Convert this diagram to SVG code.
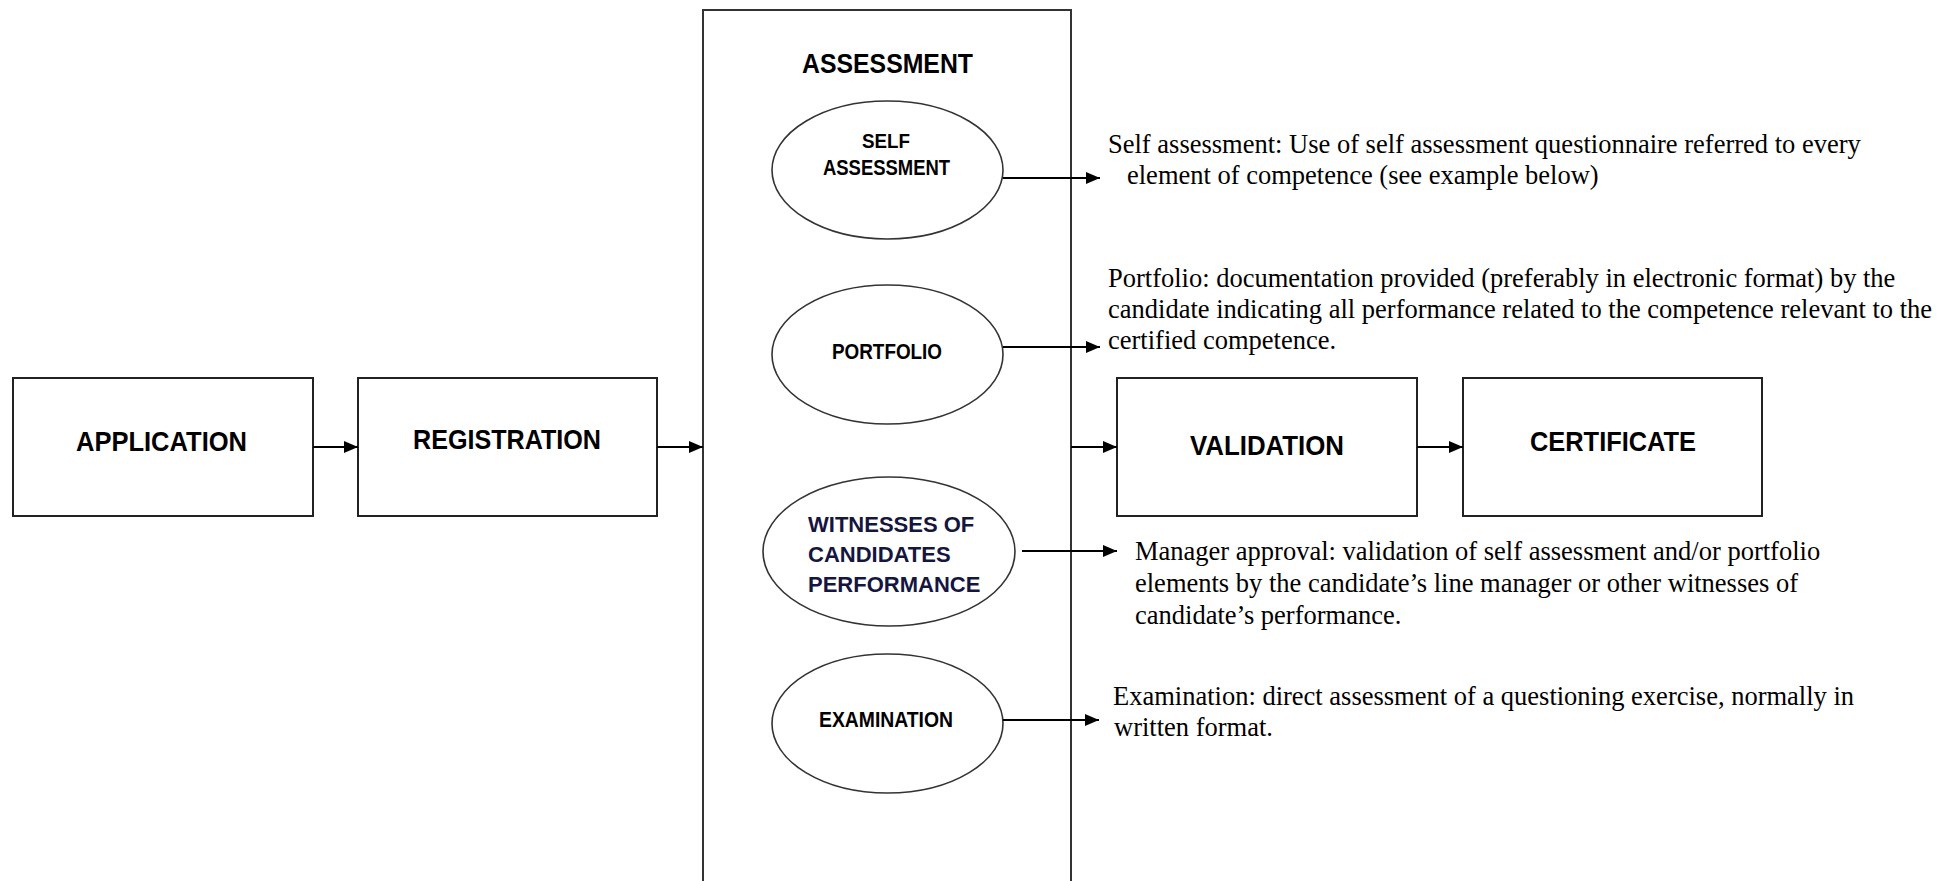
<svg xmlns="http://www.w3.org/2000/svg" width="1959" height="881" viewBox="0 0 1959 881">
  <style>
    .box { fill: #ffffff; stroke: #222222; stroke-width: 2; }
    .oval { fill: #ffffff; stroke: #333333; stroke-width: 1.6; }
    .frame { fill: none; stroke: #333333; stroke-width: 2; }
    .link { fill: none; stroke: #000000; stroke-width: 2; marker-end: url(#arrow); }
    .label { font-family: "Liberation Sans Narrow", "Liberation Sans", Arial, sans-serif; font-weight: bold; fill: #000000; }
    .navy { font-family: "Liberation Sans", Arial, sans-serif; font-weight: bold; font-size: 22px; fill: #15153f; }
    .note { font-family: "Liberation Serif", "Times New Roman", serif; font-size: 26.5px; fill: #000000; }
  </style>
  <defs>
    <marker id="arrow" markerUnits="userSpaceOnUse" markerWidth="15" markerHeight="13" refX="14" refY="6" orient="auto">
      <path d="M0,0 L14,6 L0,12 z" fill="#000000"/>
    </marker>
  </defs>

  <rect width="1959" height="881" fill="#ffffff"/>

  <!-- process steps -->
  <g id="application">
    <rect class="box" x="13" y="378" width="300" height="138"/>
    <text class="label" x="76" y="451" font-size="28" textLength="171" lengthAdjust="spacingAndGlyphs">APPLICATION</text>
  </g>
  <g id="registration">
    <rect class="box" x="358" y="378" width="299" height="138"/>
    <text class="label" x="413" y="449" font-size="28" textLength="188" lengthAdjust="spacingAndGlyphs">REGISTRATION</text>
  </g>

  <!-- assessment frame with its four methods -->
  <g id="assessment">
    <rect class="frame" x="703" y="10" width="368" height="900"/>
    <text class="label" x="802" y="73" font-size="28" textLength="171" lengthAdjust="spacingAndGlyphs">ASSESSMENT</text>
  </g>
  <g id="self-assessment">
    <ellipse class="oval" cx="887.5" cy="170" rx="115.5" ry="69"/>
    <text class="label" x="862" y="148" font-size="20" textLength="48" lengthAdjust="spacingAndGlyphs">SELF</text>
    <text class="label" x="823" y="175" font-size="22" textLength="127" lengthAdjust="spacingAndGlyphs">ASSESSMENT</text>
  </g>
  <g id="portfolio">
    <ellipse class="oval" cx="887.5" cy="354.5" rx="115.5" ry="69.5"/>
    <text class="label" x="832" y="359" font-size="22" textLength="110" lengthAdjust="spacingAndGlyphs">PORTFOLIO</text>
  </g>
  <g id="witnesses">
    <ellipse class="oval" cx="889" cy="551.5" rx="126" ry="74.5"/>
    <text class="navy" x="808" y="532">WITNESSES OF</text>
    <text class="navy" x="808" y="562">CANDIDATES</text>
    <text class="navy" x="808" y="592">PERFORMANCE</text>
  </g>
  <g id="examination">
    <ellipse class="oval" cx="887.5" cy="723.5" rx="115.5" ry="69.5"/>
    <text class="label" x="819" y="727" font-size="22" textLength="134" lengthAdjust="spacingAndGlyphs">EXAMINATION</text>
  </g>

  <g id="validation">
    <rect class="box" x="1117" y="378" width="300" height="138"/>
    <text class="label" x="1190" y="455" font-size="28" textLength="154" lengthAdjust="spacingAndGlyphs">VALIDATION</text>
  </g>
  <g id="certificate">
    <rect class="box" x="1463" y="378" width="299" height="138"/>
    <text class="label" x="1530" y="451" font-size="28" textLength="166" lengthAdjust="spacingAndGlyphs">CERTIFICATE</text>
  </g>

  <!-- explanatory notes -->
  <g id="note-self">
    <text class="note" x="1108" y="153">Self assessment: Use of self assessment questionnaire referred to every</text>
    <text class="note" x="1127" y="184">element of competence (see example below)</text>
  </g>
  <g id="note-portfolio">
    <text class="note" x="1108" y="287">Portfolio: documentation provided (preferably in electronic format) by the</text>
    <text class="note" x="1108" y="318">candidate indicating all performance related to the competence relevant to the</text>
    <text class="note" x="1108" y="349">certified competence.</text>
  </g>
  <g id="note-manager">
    <text class="note" x="1135" y="560">Manager approval: validation of self assessment and/or portfolio</text>
    <text class="note" x="1135" y="592">elements by the candidate&#8217;s line manager or other witnesses of</text>
    <text class="note" x="1135" y="624">candidate&#8217;s performance.</text>
  </g>
  <g id="note-exam">
    <text class="note" x="1113" y="705">Examination: direct assessment of a questioning exercise, normally in</text>
    <text class="note" x="1114" y="736">written format.</text>
  </g>

  <!-- connectors -->
  <g id="connectors">
    <line class="link" x1="313" y1="447" x2="358" y2="447"/>
    <line class="link" x1="657" y1="447" x2="703" y2="447"/>
    <line class="link" x1="1071" y1="447" x2="1117" y2="447"/>
    <line class="link" x1="1417" y1="447" x2="1463" y2="447"/>
    <line class="link" x1="1003" y1="178" x2="1100" y2="178"/>
    <line class="link" x1="1003" y1="347" x2="1100" y2="347"/>
    <line class="link" x1="1022" y1="551" x2="1117" y2="551"/>
    <line class="link" x1="1003" y1="720" x2="1099" y2="720"/>
  </g>
</svg>
